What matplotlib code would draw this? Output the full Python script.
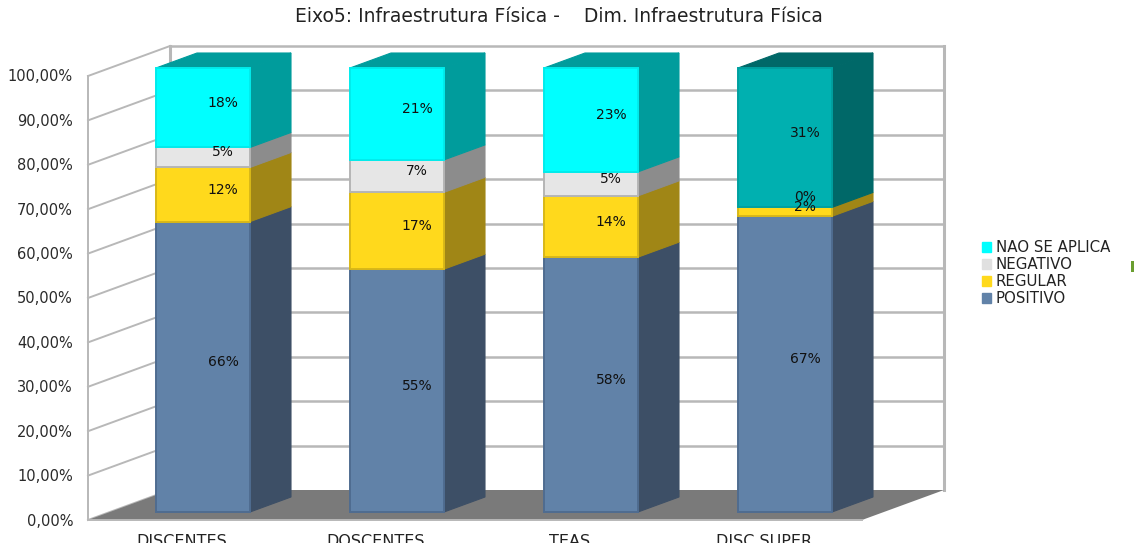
import matplotlib
matplotlib.use("Agg")
import matplotlib.pyplot as plt
from matplotlib.patches import Patch

groups = ["DISCENTES", "DOSCENTES", "TEAS", "DISC SUPER"]
series = ["POSITIVO", "REGULAR", "NEGATIVO", "NAO SE APLICA"]
positivo = [65.4, 54.7, 57.4, 66.6]
regular = [12.2, 17.3, 13.8, 2.0]
negativo = [4.5, 7.3, 5.4, 0.0]
nao_aplica = [17.9, 20.7, 23.4, 31.4]
positivo_txt = ["66%", "55%", "58%", "67%"]
regular_txt = ["12%", "17%", "14%", "2%"]
negativo_txt = ["5%", "7%", "5%", "0%"]
nao_aplica_txt = ["18%", "21%", "23%", "31%"]
ticks = [0, 10, 20, 30, 40, 50, 60, 70, 80, 90, 100]
tick_labels = ["0,00%", "10,00%", "20,00%", "30,00%", "40,00%", "50,00%",
               "60,00%", "70,00%", "80,00%", "90,00%", "100,00%"]

values = [positivo, regular, negativo, nao_aplica]
labels = [positivo_txt, regular_txt, negativo_txt, nao_aplica_txt]

front = ["#6182a8", "#ffd91c", "#e6e6e6", "#00ffff"]
side = ["#3d4f66", "#a08616", "#8c8c8c", "#009c9c"]
last_front = "#00b0b0"
last_side = "#006868"
edge = ["#4f6c90", "#d8b818", "#b5b5b5", "#00ecec"]

px_x = 194.0
px_y = 4.44
W, H = 1134, 552

plt.rcParams["font.family"] = ["DejaVu Sans"]
fig = plt.figure(figsize=(W / 100, H / 100), dpi=100)
ax = fig.add_axes([0, 0, 1, 1])
ax.set_xlim(-203 / px_x, (W - 203) / px_x)
ax.set_ylim(-(H - 512) / px_y, 512 / px_y)
ax.axis("off")

# oblique offsets for the fake 3d look
bar_dx, bar_dy = 41 / px_x, 15 / px_y
wall_dx, wall_dy = 82 / px_x, 30 / px_y
left_x = -115 / px_x
right_x = 659 / px_x
base_y = -8 / px_y
grid_col = "#b8b8b8"

# floor
ax.fill([left_x, left_x + wall_dx, right_x + wall_dx, right_x],
        [base_y, base_y + wall_dy, base_y + wall_dy, base_y],
        color="#7a7a7a", lw=0, zorder=1)

# walls and gridlines
for t in ticks:
    y = base_y + t
    ax.plot([left_x, left_x + wall_dx], [y, y + wall_dy], color=grid_col, lw=1.4, zorder=0.5)
    if t > 0:
        ax.plot([left_x + wall_dx, right_x + wall_dx], [y + wall_dy, y + wall_dy],
                color=grid_col, lw=1.8, zorder=0.5)
ax.plot([left_x, left_x], [base_y, base_y + 100], color=grid_col, lw=1.4, zorder=0.5)
ax.plot([left_x + wall_dx] * 2, [base_y + wall_dy, base_y + wall_dy + 100], color=grid_col, lw=2.2, zorder=0.5)
ax.plot([right_x + wall_dx] * 2, [base_y + wall_dy, base_y + wall_dy + 100], color=grid_col, lw=2.2, zorder=0.5)
ax.plot([left_x, right_x], [base_y, base_y], color=grid_col, lw=1.4, zorder=1.5)

# stacked bars
bw = 94 / px_x
for i in range(len(groups)):
    bottom = 0
    for s in range(len(series)):
        v = values[s][i]
        fc, sc = front[s], side[s]
        if s == 3 and i == 3:
            fc, sc = last_front, last_side
        xr = i + bw / 2
        if v > 0:
            ax.fill([xr, xr + bar_dx, xr + bar_dx, xr],
                    [bottom, bottom + bar_dy, bottom + v + bar_dy, bottom + v],
                    color=sc, lw=0.8, zorder=2)
            ax.bar(i, v, width=bw, bottom=bottom, color=fc, edgecolor=edge[s] if fc != last_front else "#00a0a0",
                   linewidth=1.4, zorder=3)
            if s == 3:
                xl = i - bw / 2
                top = bottom + v
                ax.fill([xl, xl + bar_dx, xr + bar_dx, xr],
                        [top, top + bar_dy, top + bar_dy, top],
                        color=sc, lw=0.8, zorder=2)
        # empty segments sit a little higher, as in the original
        up = 10 if v == 0 else 5
        ax.text(i + 20 / px_x, bottom + v / 2 + up / px_y, labels[s][i], ha="center", va="center",
                fontsize=10, color="#111111", zorder=5)
        bottom += v

# axis text
for t, lab in zip(ticks, tick_labels):
    ax.text(-130 / px_x, base_y + t - 1 / px_y, lab, ha="right", va="center", fontsize=10.5, color="#2a2a2a")

for i, g in enumerate(groups):
    ax.text(i - 21 / px_x, -29 / px_y, g, ha="center", va="center", fontsize=11.5, color="#222222", zorder=6)

# picture is cut off just under the category names
ax.fill([ax.get_xlim()[0], ax.get_xlim()[1], ax.get_xlim()[1], ax.get_xlim()[0]],
        [-31 / px_y, -31 / px_y, ax.get_ylim()[0], ax.get_ylim()[0]], color="white", lw=0, zorder=7)

fig.text(559 / W, 1 - 17 / H, "Eixo5: Infraestrutura Física -    Dim. Infraestrutura Física",
         ha="center", va="center", fontsize=13.5, color="#222222")

handles = [Patch(color=("#6182a8", "#ffd91c", "#e0e0e0", "#00ffff")[s], label=series[s])
           for s in range(3, -1, -1)]
ax.legend(handles=handles, loc="center left", bbox_to_anchor=(968 / W, 1 - 273 / H),
          bbox_transform=fig.transFigure, frameon=False, fontsize=10.8, handlelength=0.65, handleheight=0.65,
          handletextpad=0.3, labelspacing=0.13, labelcolor="#222222")

# small green mark at the right border
ax.fill([(1131 - 203) / px_x, (1134 - 203) / px_x, (1134 - 203) / px_x, (1131 - 203) / px_x],
        [(512 - 261) / px_y, (512 - 261) / px_y, (512 - 272) / px_y, (512 - 272) / px_y],
        color="#6a9e30", lw=0)

fig.savefig("out.png", dpi=100)
